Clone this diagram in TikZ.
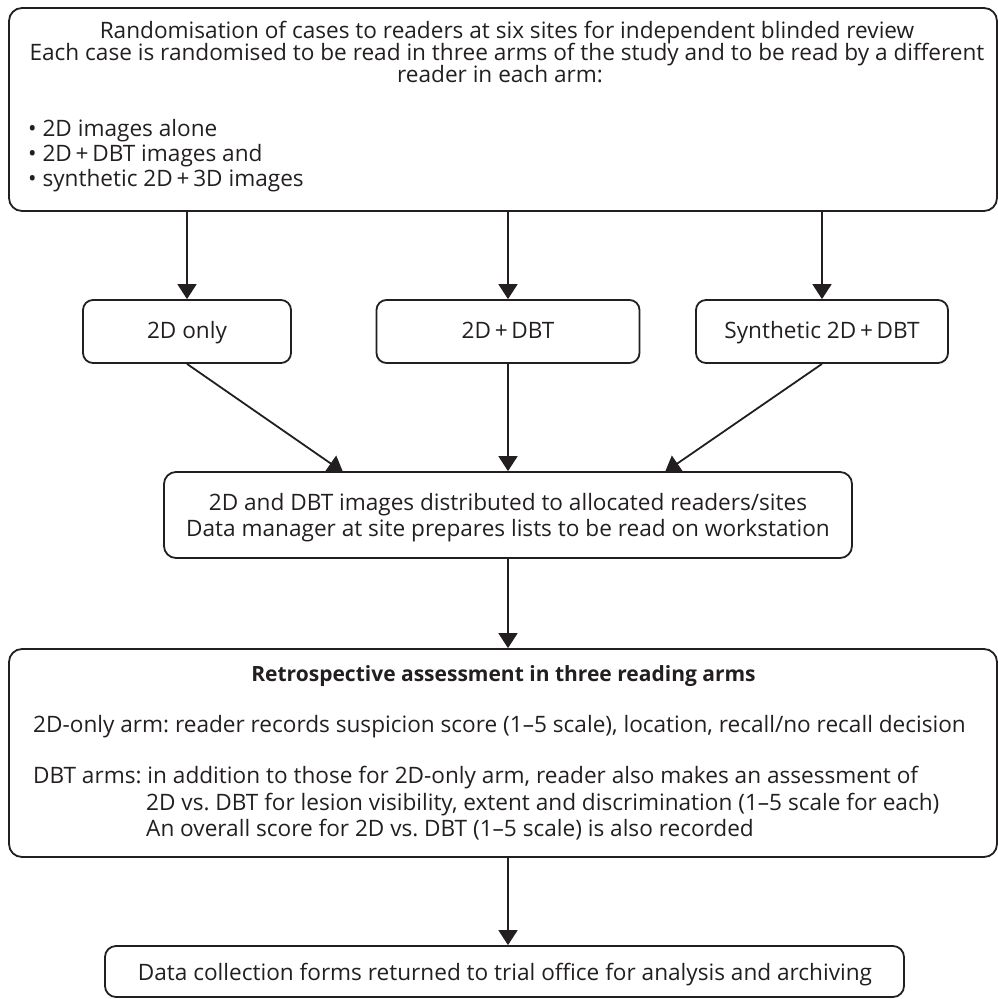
\documentclass[tikz,border=0pt]{standalone}
\usepackage{fontspec}
\setmainfont{Open Sans}
\usetikzlibrary{arrows.meta}
\definecolor{ink}{HTML}{231F20}
\frenchspacing
\begin{document}
\begin{tikzpicture}[x=1pt,y=-1pt,
  every node/.style={text=ink, font=\fontsize{22.6}{26}\selectfont},
  frame/.style={draw=ink, line width=1.8pt, rounded corners=13pt, inner sep=0pt},
  sbox/.style={draw=ink, line width=1.8pt, rounded corners=10pt, inner sep=0pt,
               minimum height=63pt, text height=17pt, text depth=4pt},
  txt/.style={anchor=base, inner sep=0pt},
  ltxt/.style={anchor=base west, inner sep=0pt},
  arr/.style={draw=ink, line width=1.8pt, -{Triangle[length=15pt,width=19pt]}}
]
\useasboundingbox (0,0) rectangle (998,999);

% boxes
\node[frame, minimum width=988pt, minimum height=203pt] (top) at (503,109.5) {};
\node[sbox, minimum width=208pt] (s1) at (187,331.5) {2D only};
\node[sbox, minimum width=263pt] (s2) at (508,331.5) {2D\,+\,DBT};
\node[sbox, minimum width=252pt] (s3) at (822,331.5) {Synthetic 2D\,+\,DBT};
\node[frame, rounded corners=12pt, minimum width=688pt, minimum height=86pt] (dist) at (508,515) {};
\node[frame, minimum width=988pt, minimum height=208pt] (retro) at (503,753) {};
\node[frame, rounded corners=11pt, minimum width=799pt, minimum height=51pt] (final) at (504.5,971.5) {};

% top box text
\node[txt] (t1) at (507,38) {Randomisation of cases to readers at six sites for independent blinded review};
\node[txt] (t2) at (507,60) {Each case is randomised to be read in three arms of the study and to be read by a different};
\node[txt] (t3) at (500,82) {reader in each arm:};
\node[ltxt] (b1) at (28,136) {\textbullet\ 2D images alone};
\node[ltxt] (b2) at (28,161) {\textbullet\ 2D\,+\,DBT images and};
\node[ltxt] (b3) at (28,186) {\textbullet\ synthetic 2D\,+\,3D images};

% distribution box text
\node[txt] (d1t) at (508,510) {2D and DBT images distributed to allocated readers/sites};
\node[txt] (d2t) at (508,536) {Data manager at site prepares lists to be read on workstation};

% retrospective box text
\node[txt, font=\fontsize{21}{25}\selectfont\bfseries] (r0) at (503.5,681) {Retrospective assessment in three reading arms};
\node[ltxt] (r1) at (33,732) {2D-only arm: reader records suspicion score (1–5 scale), location, recall/no recall decision};
\node[ltxt] (r2) at (33,783) {DBT arms: in addition to those for 2D-only arm, reader also makes an assessment of};
\node[ltxt] (r3) at (146,810) {2D vs. DBT for lesion visibility, extent and discrimination (1–5 scale for each)};
\node[ltxt] (r4) at (146,836) {An overall score for 2D vs. DBT (1–5 scale) is also recorded};

% final box text
\node[txt] (f1) at (505,980) {Data collection forms returned to trial office for analysis and archiving};

% connectors
\coordinate (j1) at (343,472);
\coordinate (j3) at (665,472);
\draw[arr] (top.south -| s1.north) -- (s1.north);
\draw[arr] (top.south -| s2.north) -- (s2.north);
\draw[arr] (top.south -| s3.north) -- (s3.north);
\draw[arr] (s1.south) -- (j1);
\draw[arr] (s2.south) -- (s2.south |- dist.north);
\draw[arr] (s3.south) -- (j3);
\draw[arr] (dist.south) -- (dist.south |- retro.north);
\draw[arr] (dist.south |- retro.south) -- (dist.south |- final.north);
\end{tikzpicture}
\end{document}
